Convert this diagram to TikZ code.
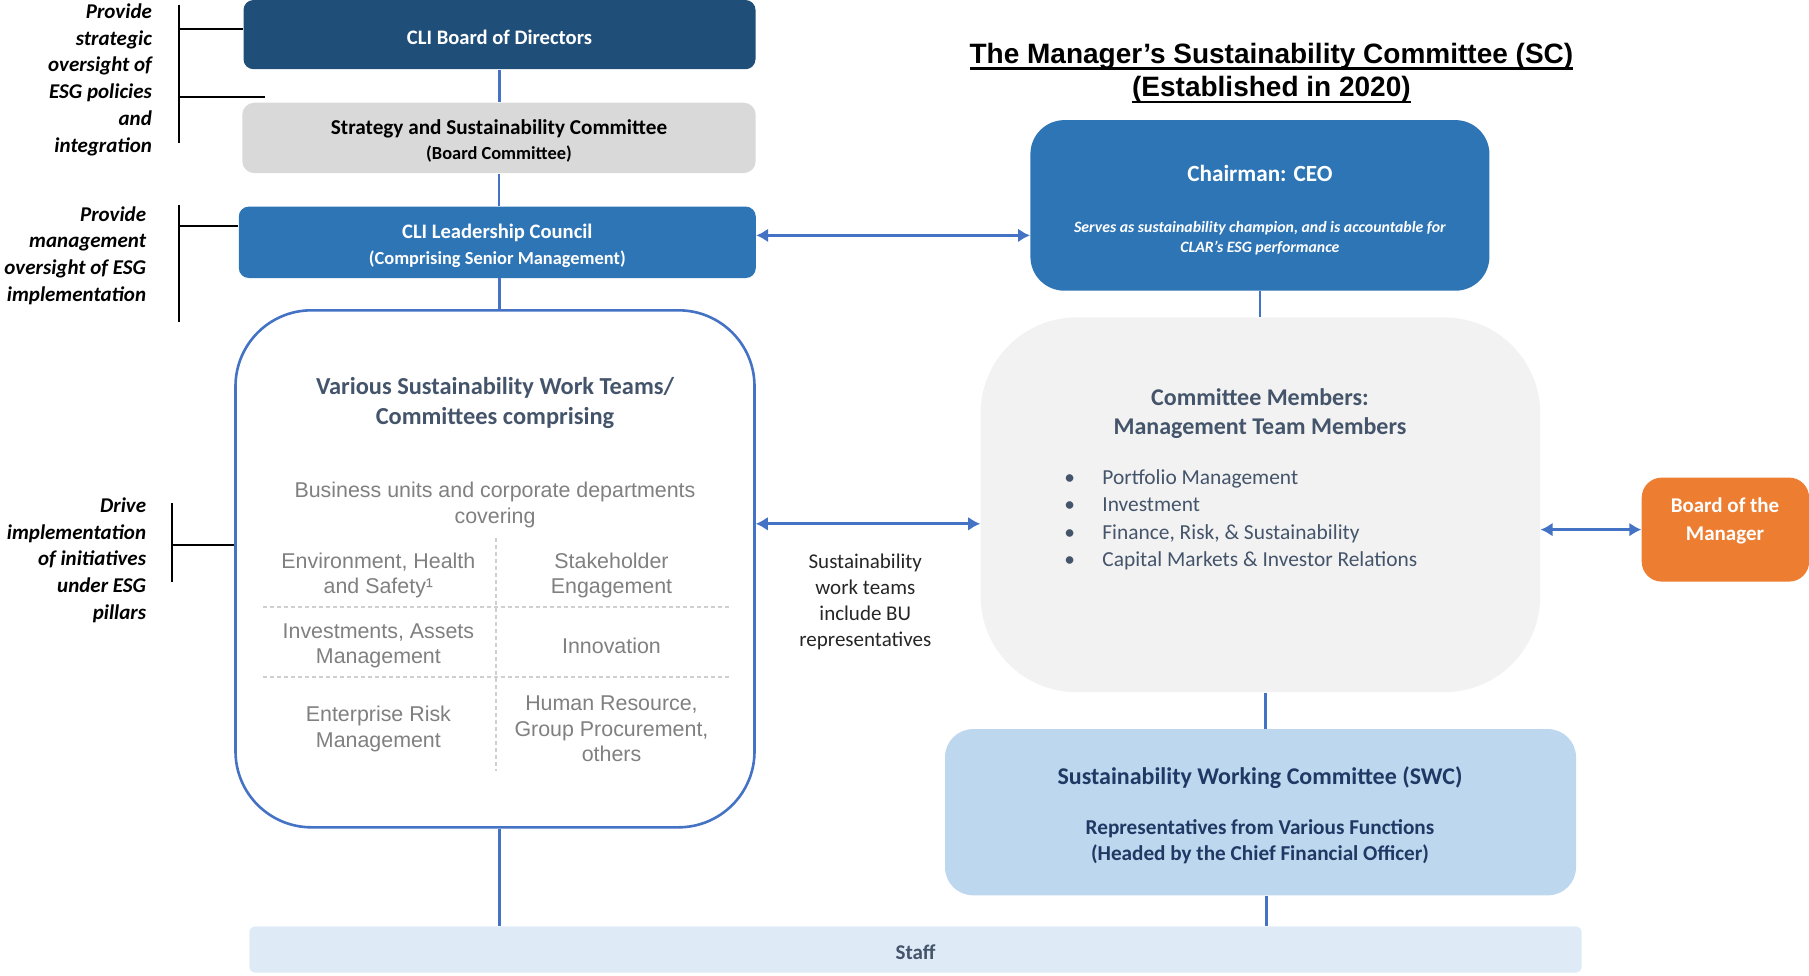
\documentclass[tikz,border=0pt]{standalone}
\usepackage{fontspec}
\setmainfont{Carlito}
\newfontfamily\arialfont{Liberation Sans}
\usetikzlibrary{arrows.meta}

\definecolor{boarddark}{HTML}{1F4E79}
\definecolor{stratgrey}{HTML}{D9D9D9}
\definecolor{leadblue}{HTML}{2E75B6}
\definecolor{lineblue}{HTML}{4472C4}
\definecolor{cmgrey}{HTML}{F2F2F2}
\definecolor{slate}{HTML}{44546A}
\definecolor{pillargrey}{HTML}{808080}
\definecolor{gridgrey}{HTML}{D0D0D0}
\definecolor{bomorange}{HTML}{ED7D31}
\definecolor{swcblue}{HTML}{BDD7EE}
\definecolor{swcnavy}{HTML}{1F3864}
\definecolor{staffblue}{HTML}{DEEBF7}
\definecolor{labeltext}{HTML}{262626}

\newcommand{\ulined}[1]{\setbox0=\hbox{#1}\rlap{\rule[-3.2pt]{\wd0}{1.1pt}}\box0}

\tikzstyle{box}=[rounded corners=5pt, inner sep=0pt, align=center]

\begin{document}
\begin{tikzpicture}[x=0.5pt, y=-0.5pt, >={Latex[length=6pt,width=7pt]}]
\tikzstyle{link}=[draw=lineblue, line width=1.3pt]
\tikzstyle{biarrow}=[<->, draw=lineblue, line width=1.5pt]
\tikzstyle{brace}=[line width=1pt]
\tikzstyle{plain}=[align=center, inner sep=0pt, yshift=-1.15pt]
\tikzstyle{note}=[plain, font=\fontsize{10.5}{13.4}\selectfont\bfseries\itshape, align=right, anchor=east]
\tikzstyle{grid}=[draw=gridgrey, line width=0.8pt, dash pattern=on 2pt off 1.5pt]
\tikzstyle{pillar}=[plain, font=\arialfont\fontsize{10.7}{12.7}\selectfont, text=pillargrey]

\useasboundingbox (0,0) rectangle (1809,975);
\clip (0,0) rectangle (1809,975);

% left hand notes
\node[note] (strategic) at (152.3,77.3) {Provide\\strategic\\oversight of\\ESG policies\\and\\integration};
\node[note] (mgmt) at (146.5,253.2) {Provide\\management\\oversight of ESG\\implementation};
\node[note] (drive) at (146.5,557.9) {Drive\\implementation\\of initiatives\\under ESG\\pillars};

% board side
\node[box, fill=boarddark, minimum width=256pt, minimum height=34.6pt] (board) at (499.5,34.6) {};
\node[plain, text=white, font=\fontsize{10.3}{12.4}\selectfont\bfseries] (boardtext) at (499.5,34.6) {CLI Board of Directors};
\node[box, fill=stratgrey, rounded corners=6pt, minimum width=256.7pt, minimum height=35.2pt] (strat) at (499,137.9) {};
\node[plain, text=black, font=\fontsize{10.6}{12.65}\selectfont\bfseries] (strattext) at (499,138.5)
      {Strategy and Sustainability Committee\\{\fontsize{9.2}{11}\selectfont (Board Committee)}};
\node[box, fill=leadblue, minimum width=258.5pt, minimum height=35.7pt] (lead) at (497.3,242.3) {};
\node[plain, text=white, font=\fontsize{10.3}{12.7}\selectfont\bfseries] (leadtext) at (497.3,243.4)
      {CLI Leadership Council\\{\fontsize{9.2}{11}\selectfont (Comprising Senior Management)}};
\node[box, draw=lineblue, line width=1.3pt, fill=white, rounded corners=38pt,
      minimum width=259.5pt, minimum height=258.5pt] (work) at (495,568.8) {};

\node[plain, font=\fontsize{12.2}{15}\selectfont\bfseries, text=slate] (worktitle) at (495,400.3)
      {Various Sustainability Work Teams/\\Committees comprising};
\node[pillar] (covering) at (495,502.5) {Business units and corporate departments\\covering};
\draw[grid] (496.1,537.6) -- (496.1,770.7);
\draw[grid] (263,606.9) -- (729.1,606.9);
\draw[grid] (263,677.2) -- (729.1,677.2);
\node[pillar] (eh) at (378.4,573.4) {Environment, Health\\and Safety¹};
\node[pillar] (stake) at (611.5,573.4) {Stakeholder\\Engagement};
\node[pillar] (invest) at (378.4,643.8) {Investments, Assets\\Management};
\node[pillar] (innov) at (611.5,643.8) {Innovation};
\node[pillar] (erm) at (378.4,726.8) {Enterprise Risk\\Management};
\node[pillar] (hr) at (611.5,726.8) {Human Resource,\\Group Procurement,\\others};

% the manager's committee
\node[plain, font=\arialfont\fontsize{14}{16.7}\selectfont\bfseries] (title) at (1271.4,70.6)
      {\ulined{The Manager’s Sustainability Committee (SC)}\\\ulined{(Established in 2020)}};
\node[box, fill=leadblue, rounded corners=17pt, minimum width=229.5pt, minimum height=85.3pt] (chair) at (1259.9,205.4) {};
\node[plain, text=white, font=\fontsize{11.6}{14}\selectfont\bfseries] (chairtitle) at (1259.9,170.7) {Chairman: CEO};
\node[plain, text=white, font=\fontsize{7.9}{9.8}\selectfont\bfseries\itshape] (chairnote) at (1259.9,235.9)
      {Serves as sustainability champion, and is accountable for\\CLAR’s ESG performance};

\node[box, fill=cmgrey, rounded corners=48pt, minimum width=279.8pt, minimum height=187.4pt] (cm) at (1260.4,504.8) {};
\node[plain, text=slate, font=\fontsize{12}{14.4}\selectfont\bfseries] (cmhead) at (1260,411.3)
      {Committee Members:\\Management Team Members};
\node[plain, align=left, anchor=west, text=slate, font=\fontsize{10.7}{13.65}\selectfont] (cmlist) at (1064,517.5)
      {\makebox[19pt][l]{•}Portfolio Management\\\makebox[19pt][l]{•}Investment\\
       \makebox[19pt][l]{•}Finance, Risk, \& Sustainability\\\makebox[19pt][l]{•}Capital Markets \& Investor Relations};

\node[box, fill=bomorange, rounded corners=10pt, minimum width=83.7pt, minimum height=52pt] (bom) at (1725.4,529.6) {};
\node[plain, text=white, font=\fontsize{10.5}{13.9}\selectfont\bfseries] (bomtext) at (1725,519) {Board of the\\Manager};

\node[box, fill=swcblue, rounded corners=14pt, minimum width=315.5pt, minimum height=83.1pt] (swc) at (1260.5,812.2) {};
\node[plain, text=swcnavy, font=\fontsize{12}{14}\selectfont\bfseries] (swctitle) at (1260,775.3)
      {Sustainability Working Committee (SWC)};
\node[plain, text=swcnavy, font=\fontsize{10.6}{13.3}\selectfont\bfseries] (swcnote) at (1260,839.3)
      {Representatives from Various Functions\\(Headed by the Chief Financial Officer)};

\node[box, fill=staffblue, rounded corners=3pt, minimum width=666.2pt, minimum height=23.1pt] (staff) at (915.5,949.5) {};
\node[plain, text=slate, font=\fontsize{10.5}{12.6}\selectfont\bfseries] (stafftext) at (915.5,949.5) {Staff};

\node[plain, text=labeltext, font=\fontsize{10.5}{12.9}\selectfont] (wtlabel) at (865.3,599.4)
      {Sustainability\\work teams\\include BU\\representatives};

% connectors
\draw[link] (board.south) -- (board.south |- strat.north);
\draw[link] (strat.south) -- (strat.south |- lead.north);
\draw[link] (board.south |- lead.south) -- (board.south |- work.north);
\draw[link] (board.south |- work.south) -- (board.south |- staff.north);
\draw[link] (chair.south) -- (chair.south |- cm.north);
\draw[link] ([xshift=2.6pt]cm.south) -- ([xshift=2.6pt]cm.south |- swc.north);
\draw[link] ([xshift=3pt]swc.south) -- ([xshift=3pt]swc.south |- staff.north);

\coordinate (a1) at (0,235.4);
\coordinate (a2) at (0,523.8);
\draw[biarrow] (lead.east |- a1) -- (chair.west |- a1);
\draw[biarrow] (work.east |- a2) -- (cm.west |- a2);
\draw[biarrow] (cm.east |- bom.west) -- (bom.west);

% brackets
\coordinate (b1) at (178.8,28.8);
\coordinate (b2) at (178.8,96.9);
\coordinate (b3) at (178.8,226.1);
\coordinate (b4) at (171.9,544.5);
\draw[brace] (178.8,4.6) -- (178.8,143);
\draw[brace] (b1) -- (b1 -| board.west);
\draw[brace] (b2) -- (265.4,96.9);
\draw[brace] (178.8,205.4) -- (178.8,321.9);
\draw[brace] (b3) -- (b3 -| lead.west);
\draw[brace] (171.9,503) -- (171.9,581.5);
\draw[brace] (b4) -- (b4 -| work.west);

\end{tikzpicture}
\end{document}
